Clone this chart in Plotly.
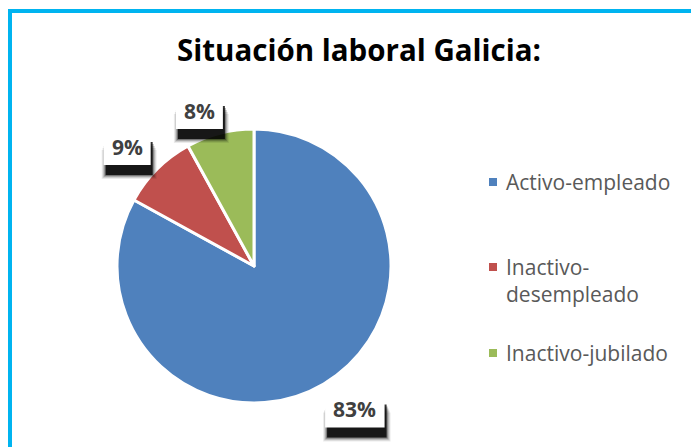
import math
import plotly.graph_objects as go

# ---- data ----
categories = ["Activo-empleado", "Inactivo-desempleado", "Inactivo-jubilado"]
values = [83, 9, 8]
title_text = "Situación laboral Galicia:"

# ---- style ----
colors = ["#4F81BD", "#C0504D", "#9BBB59"]
W, H = 699, 447
PAGE_OFF = 8                       # browser body margin
CX, CY, R = 254, 266, 137          # pie centre / radius in screen px
LABEL_RADIUS = [1.28, 1.27, 1.20]  # label distance (x radius)
LABEL_ANGLE_SHIFT = [-4.5, -1.8, -5.0]  # degrees
LEGEND_X = 493
LEGEND_ROWS = [182, 267, 353]
FONT = "Open Sans"


def fx(x):
    return (x - PAGE_OFF) / W


def fy(y):
    return 1 - (y - PAGE_OFF) / H


fig = go.Figure(
    go.Pie(
        labels=categories,
        values=values,
        sort=False,
        direction="clockwise",
        rotation=0,
        marker=dict(colors=colors, line=dict(color="white", width=3)),
        textinfo="none",
        hoverinfo="label+percent",
        showlegend=False,
        domain=dict(x=[fx(CX - R), fx(CX + R)], y=[fy(CY + R), fy(CY - R)]),
    )
)

shapes = []
annotations = []

# outer cyan frame (only top/left visible)
shapes.append(dict(type="rect", xref="paper", yref="paper",
                   x0=fx(10), x1=fx(W + 40), y0=fy(H + 40), y1=fy(11),
                   line=dict(color="#00B4F0", width=4), fillcolor="rgba(0,0,0,0)",
                   layer="above"))

# title
annotations.append(dict(text="<b>%s</b>" % title_text, xref="paper", yref="paper",
                        x=fx(359), y=fy(50), xanchor="center", yanchor="middle",
                        showarrow=False, font=dict(family=FONT, size=29.5, color="#000000")))

# data labels with shadow boxes
total = sum(values)
cum = 0
for i, v in enumerate(values):
    mid = (cum + v / 2) / total * 360 + LABEL_ANGLE_SHIFT[i]
    cum += v
    r = R * LABEL_RADIUS[i]
    lx = CX + r * math.sin(math.radians(mid))
    ly = CY - r * math.cos(math.radians(mid))
    txt = "%d%%" % round(v / total * 100)
    bw = 22 + 12.5 * len(txt)
    top, bot = ly - 15, ly + 18
    # blurred drop shadow: box offset (+2, +10), softened edges
    for e, op in [(4, 0.08), (3, 0.12), (2, 0.18), (1, 0.3), (0, 0.8)]:
        shapes.append(dict(type="rect", xref="paper", yref="paper",
                           x0=fx(lx - bw / 2 + 2 - e), x1=fx(lx + bw / 2 + 2 + e),
                           y0=fy(bot + 10 + e), y1=fy(top + 10 + 2 * e),
                           line=dict(width=0), fillcolor="black", opacity=op,
                           layer="above"))
    # white label box
    shapes.append(dict(type="rect", xref="paper", yref="paper",
                       x0=fx(lx - bw / 2), x1=fx(lx + bw / 2),
                       y0=fy(bot), y1=fy(top),
                       line=dict(width=0), fillcolor="white", layer="above"))
    annotations.append(dict(text="<b>%s</b>" % txt, xref="paper", yref="paper",
                            x=fx(lx), y=fy(ly), xanchor="center", yanchor="middle",
                            showarrow=False,
                            font=dict(family=FONT, size=21, color="#404040")))

# legend (manual)
for i, name in enumerate(categories):
    label = name
    if len(name) > 17 and "-" in name:
        a, b = name.split("-", 1)
        label = a + "-<br>" + b
    y = LEGEND_ROWS[i]
    shapes.append(dict(type="rect", xref="paper", yref="paper",
                       x0=fx(LEGEND_X - 4), x1=fx(LEGEND_X + 4),
                       y0=fy(y + 4), y1=fy(y - 4),
                       line=dict(width=0), fillcolor=colors[i]))
    annotations.append(dict(text=label, xref="paper", yref="paper",
                            x=fx(LEGEND_X + 11), y=fy(y - 16.5), xanchor="left",
                            yanchor="top", align="left", showarrow=False,
                            font=dict(family=FONT, size=21, color="#595959")))

fig.update_layout(
    width=W, height=H,
    margin=dict(l=0, r=0, t=0, b=0),
    paper_bgcolor="white", plot_bgcolor="white",
    shapes=shapes, annotations=annotations,
    showlegend=False,
)

fig.write_html("out.html")
